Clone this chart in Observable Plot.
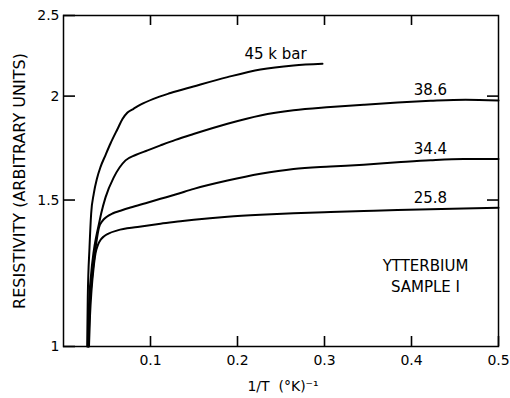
<!DOCTYPE html>
<html>
<head>
<meta charset="utf-8">
<script src="https://cdn.jsdelivr.net/npm/d3@7"></script>
<script src="https://cdn.jsdelivr.net/npm/@observablehq/plot@0.6"></script>
<style>
  html, body { margin: 0; padding: 0; background: #fff; }
  #chart svg { display: block; }
</style>
</head>
<body>
<div id="chart"></div>
<script>
// Resistivity of ytterbium (sample I) against inverse temperature, one curve per pressure.
const pressures = ["45 k bar", "38.6", "34.4", "25.8"];

const invT45 = [0.0272, 0.0279, 0.0299, 0.0318, 0.0348, 0.0385, 0.0425, 0.0483, 0.054, 0.0621, 0.0678, 0.0736, 0.0805, 0.0885, 0.1034, 0.123, 0.1494, 0.1885, 0.2264, 0.2644, 0.2977];
const rho45  = [1.000, 1.145, 1.315, 1.445, 1.527, 1.592, 1.643, 1.699, 1.754, 1.826, 1.877, 1.911, 1.931, 1.953, 1.985, 2.017, 2.054, 2.108, 2.153, 2.177, 2.187];

const invT386 = [0.0282, 0.0293, 0.0316, 0.0345, 0.0379, 0.0406, 0.0433, 0.0483, 0.0578, 0.0713, 0.0828, 0.0966, 0.1115, 0.1287, 0.1494, 0.1885, 0.2264, 0.2644, 0.3069, 0.345, 0.3839, 0.4218, 0.4621, 0.5];
const rho386  = [1.000, 1.120, 1.217, 1.297, 1.360, 1.402, 1.445, 1.511, 1.597, 1.674, 1.699, 1.721, 1.745, 1.772, 1.801, 1.853, 1.896, 1.923, 1.940, 1.953, 1.965, 1.974, 1.980, 1.976];

const invT344 = [0.0287, 0.0299, 0.0322, 0.0351, 0.0379, 0.0408, 0.0448, 0.0494, 0.0563, 0.0655, 0.077, 0.0943, 0.1115, 0.1287, 0.1498, 0.1885, 0.2264, 0.2644, 0.3069, 0.345, 0.3839, 0.4218, 0.4598, 0.5];
const rho344  = [1.000, 1.105, 1.191, 1.269, 1.337, 1.390, 1.416, 1.431, 1.445, 1.456, 1.469, 1.487, 1.505, 1.523, 1.547, 1.583, 1.613, 1.635, 1.646, 1.654, 1.665, 1.675, 1.681, 1.681];

const invT258 = [0.0293, 0.0305, 0.0322, 0.0345, 0.0368, 0.0397, 0.0425, 0.0463, 0.0517, 0.0621, 0.0851, 0.1115, 0.1345, 0.1498, 0.1885, 0.2264, 0.2644, 0.3069, 0.345, 0.3839, 0.4218, 0.4598, 0.5];
const rho258  = [1.000, 1.090, 1.168, 1.241, 1.294, 1.326, 1.343, 1.356, 1.367, 1.379, 1.392, 1.405, 1.414, 1.420, 1.432, 1.440, 1.446, 1.451, 1.455, 1.459, 1.462, 1.465, 1.468];

// x value at which each curve carries its pressure label
const labelAt = [0.2644, 0.4218, 0.4218, 0.4218];

const xTicks = [0.1, 0.2, 0.3, 0.4, 0.5];
const xTopTicks = [0.1, 0.2, 0.3, 0.4];
const yTicks = [1, 1.5, 2, 2.5];
const yRightTicks = [1.5, 2];

const columns = [[invT45, rho45], [invT386, rho386], [invT344, rho344], [invT258, rho258]];
const rows = [];
columns.forEach(([xs, ys], k) => xs.forEach((x, i) => rows.push({pressure: pressures[k], invT: x, rho: ys[i]})));

const headLabel = pressures.slice(0, 1).map((p, k) => rows.find(r => r.pressure === p && r.invT === labelAt[k]));
const sideLabels = pressures.slice(1).map((p, k) => rows.find(r => r.pressure === p && r.invT === labelAt[k + 1]));

// frame geometry
const W = 510, H = 398;
const mL = 63, mR = 12, mT = 15, mB = 52;
const frameW = W - mL - mR, frameH = H - mT - mB;

const font = "'DejaVu Sans', sans-serif";
const ink = "#000";

const chart = Plot.plot({
  width: W,
  height: H,
  marginLeft: mL,
  marginRight: mR,
  marginTop: mT,
  marginBottom: mB,
  style: {fontFamily: font, fontSize: "14px", color: ink, background: "#fff", overflow: "visible"},
  x: {domain: [0, 0.5]},
  y: {type: "log", domain: [1, 2.5]},
  marks: [
    Plot.frame({stroke: ink, strokeWidth: 1.5}),
    // short tick marks pointing into the frame on all four sides
    Plot.ruleX(xTicks, {x: d => d, insetTop: frameH - 10, stroke: ink, strokeWidth: 1.6}),
    Plot.ruleX(xTopTicks, {x: d => d, insetBottom: frameH - 10, stroke: ink, strokeWidth: 1.6}),
    Plot.ruleY(yTicks, {y: d => d, insetRight: frameW - 12, stroke: ink, strokeWidth: 1.6}),
    Plot.ruleY(yRightTicks, {y: d => d, insetLeft: frameW - 11, stroke: ink, strokeWidth: 1.6}),
    // tick labels
    Plot.axisX(xTicks, {anchor: "bottom", tickSize: 0, tickPadding: 9, tickFormat: d => String(d), label: null, fontSize: 14}),
    Plot.axisY(yTicks, {anchor: "left", tickSize: 0, tickPadding: 4, tickFormat: d => String(d), label: null, fontSize: 14}),
    // axis titles
    Plot.text(["1/T  (°K)⁻¹"], {frameAnchor: "bottom", dy: 40, dx: 2, textAnchor: "middle", lineAnchor: "middle", fontSize: 14, fill: ink}),
    Plot.text(["RESISTIVITY (ARBITRARY UNITS)"], {frameAnchor: "left", dx: -44, rotate: -90, textAnchor: "middle", lineAnchor: "middle", fontSize: 16, fill: ink}),
    // one curve per pressure
    Plot.line(rows, {
      x: "invT", y: "rho", z: "pressure",
      stroke: ink, strokeWidth: 2, curve: "monotone-x"
    }),
    Plot.text(headLabel, {
      x: "invT", y: "rho", text: "pressure",
      dx: -18, dy: -11, lineAnchor: "middle", fontSize: 15, fill: ink
    }),
    Plot.text(sideLabels, {
      x: "invT", y: "rho", text: "pressure",
      dy: -11, lineAnchor: "middle", fontSize: 15, fill: ink
    }),
    Plot.text(["YTTERBIUM\nSAMPLE I"], {
      frameAnchor: "bottom-right", dx: -73, dy: -72,
      textAnchor: "middle", lineAnchor: "middle", lineHeight: 1.45,
      fontSize: 15, fill: ink
    })
  ]
});

document.getElementById("chart").appendChild(chart);
</script>
</body>
</html>
